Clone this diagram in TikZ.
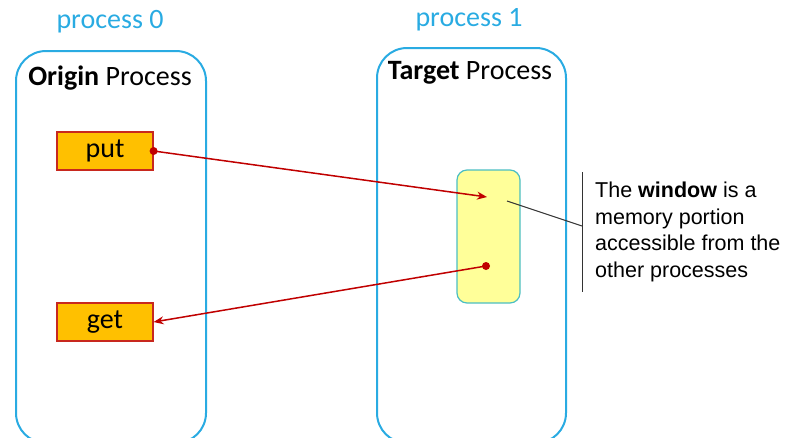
\documentclass[tikz,border=0pt]{standalone}
\usepackage{fontspec}
\setmainfont{Carlito}
\newfontfamily\arialfont{Liberation Sans}
\usetikzlibrary{arrows.meta}
\definecolor{procblue}{RGB}{41,171,226}
\definecolor{opgold}{RGB}{255,192,0}
\definecolor{opred}{RGB}{200,40,30}
\definecolor{arrred}{RGB}{192,0,0}
\definecolor{winfill}{RGB}{255,255,153}
\definecolor{winedge}{RGB}{75,190,195}
\tikzset{
  procbox/.style={draw=procblue, line width=2pt, rounded corners=30pt, anchor=north west, inner sep=0pt},
  proclabel/.style={text=procblue, font=\fontsize{28}{32}\selectfont, inner sep=0pt},
  boxtitle/.style={font=\fontsize{28}{32}\selectfont, inner sep=0pt},
  opbox/.style={draw=opred, fill=opgold, line width=1.2pt, minimum width=96pt, minimum height=38pt, inner sep=0pt, font=\fontsize{28}{32}\selectfont},
  winbox/.style={draw=winedge, fill=winfill, line width=1.2pt, rounded corners=10pt, minimum width=63pt, minimum height=133pt, inner sep=0pt},
  rma/.style={draw=arrred, line width=1.5pt, -{Stealth[length=10pt,width=8pt]}},
  startdot/.style={circle, fill=arrred, inner sep=0pt, minimum size=8pt},
  note/.style={font=\arialfont\fontsize{21.5}{26.7}\selectfont, align=left, anchor=west, inner sep=0pt}
}
\begin{document}
\begin{tikzpicture}[x=1pt,y=-1pt]
  \useasboundingbox (0,0) rectangle (786,437);
  \clip (0,0) rectangle (786,437);

  % process frames (open at the bottom of the page)
  \node[procbox, minimum width=190pt, minimum height=392pt] (p0) at (15,50) {};
  \node[procbox, minimum width=189pt, minimum height=395pt] (p1) at (376,47) {};

  \node[proclabel] (l0) at (110,22) {process 0};
  \node[proclabel] (l1) at (469,20) {process 1};
  \node[boxtitle] (t0) at (110,78) {\textbf{Origin} Process};
  \node[boxtitle] (t1) at (470,73) {\textbf{Target} Process};

  % RMA operations
  \node[opbox] (put) at (105,151) {put};
  \node[opbox] (get) at (105,322) {get};

  % exposed memory window
  \node[winbox] (win) at (488.5,236.5) {};
  \coordinate (win-in) at (487,197);
  \coordinate (win-out) at (486,266);
  \coordinate (win-ref) at (507,201);

  \node[startdot] (putdot) at (put.east) {};
  \node[startdot] (getdot) at (win-out) {};
  \draw[rma] (putdot.center) -- (win-in);
  \draw[rma] (getdot.center) -- (get.east);

  % explanatory note with bracket
  \coordinate (bartop) at (582,172);
  \coordinate (barbot) at (582,292);
  \coordinate (barmid) at (582,226);
  \draw[line width=1pt, black!80] (bartop) -- (barbot);
  \draw[line width=1pt, black!80] (win-ref) -- (barmid);
  \node[note] (txt) at (595,232) {The \textbf{window} is a\\memory portion\\accessible from the\\other processes};
\end{tikzpicture}
\end{document}
